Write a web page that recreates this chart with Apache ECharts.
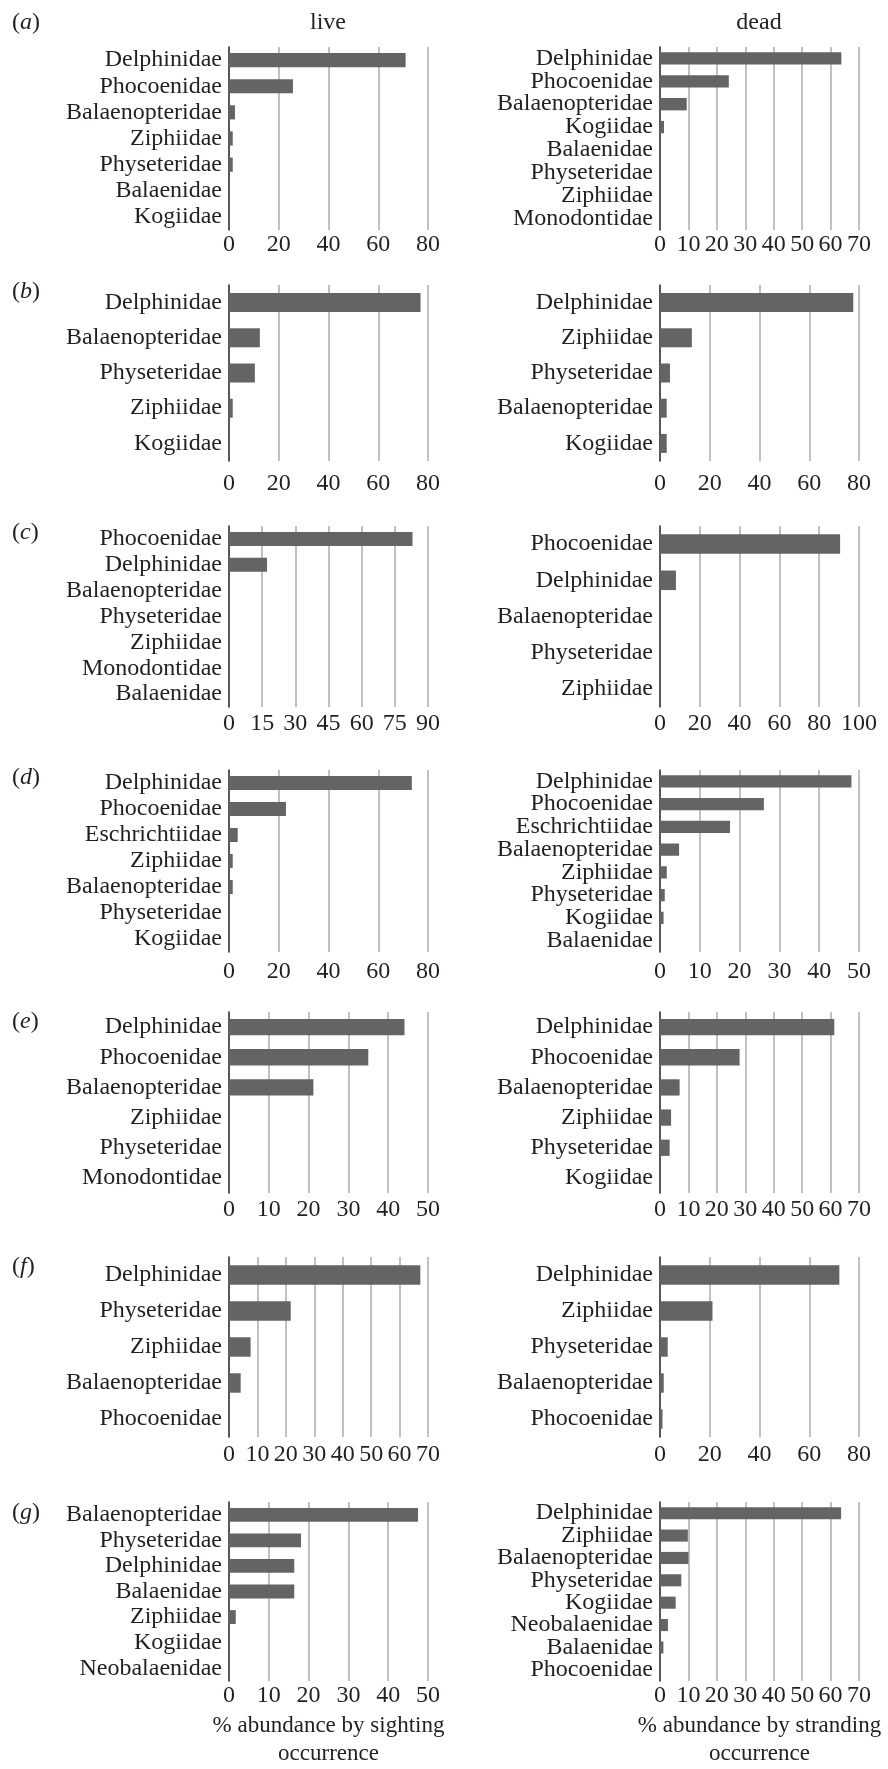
<!DOCTYPE html>
<html>
<head>
<meta charset="utf-8">
<script src="https://cdn.jsdelivr.net/npm/echarts@6/dist/echarts.min.js"></script>
<style>
  html, body { margin: 0; padding: 0; background: #fff; }
  #chart { width: 888px; height: 1769px; }
</style>
</head>
<body>
<div id="chart"></div>
<script>
// live = % abundance by sighting occurrence, dead = % abundance by stranding occurrence
const aLiveCats = ['Delphinidae', 'Phocoenidae', 'Balaenopteridae', 'Ziphiidae', 'Physeteridae', 'Balaenidae', 'Kogiidae']
const aLiveVals = [71, 25.7, 2.4, 1.5, 1.5, 0, 0]
const aDeadCats = ['Delphinidae', 'Phocoenidae', 'Balaenopteridae', 'Kogiidae', 'Balaenidae', 'Physeteridae', 'Ziphiidae', 'Monodontidae']
const aDeadVals = [63.8, 24.2, 9.4, 1.4, 0, 0, 0, 0]

const bLiveCats = ['Delphinidae', 'Balaenopteridae', 'Physeteridae', 'Ziphiidae', 'Kogiidae']
const bLiveVals = [77, 12.4, 10.4, 1.5, 0]
const bDeadCats = ['Delphinidae', 'Ziphiidae', 'Physeteridae', 'Balaenopteridae', 'Kogiidae']
const bDeadVals = [77.7, 12.8, 4, 2.7, 2.7]

const cLiveCats = ['Phocoenidae', 'Delphinidae', 'Balaenopteridae', 'Physeteridae', 'Ziphiidae', 'Monodontidae', 'Balaenidae']
const cLiveVals = [83, 17.2, 0, 0, 0, 0, 0]
const cDeadCats = ['Phocoenidae', 'Delphinidae', 'Balaenopteridae', 'Physeteridae', 'Ziphiidae']
const cDeadVals = [90.5, 8, 0, 0, 0]

const dLiveCats = ['Delphinidae', 'Phocoenidae', 'Eschrichtiidae', 'Ziphiidae', 'Balaenopteridae', 'Physeteridae', 'Kogiidae']
const dLiveVals = [73.5, 22.9, 3.5, 1.5, 1.5, 0, 0]
const dDeadCats = ['Delphinidae', 'Phocoenidae', 'Eschrichtiidae', 'Balaenopteridae', 'Ziphiidae', 'Physeteridae', 'Kogiidae', 'Balaenidae']
const dDeadVals = [48.1, 26.1, 17.6, 4.8, 1.7, 1.2, 0.9, 0]

const eLiveCats = ['Delphinidae', 'Phocoenidae', 'Balaenopteridae', 'Ziphiidae', 'Physeteridae', 'Monodontidae']
const eLiveVals = [44.1, 35, 21.2, 0, 0, 0]
const eDeadCats = ['Delphinidae', 'Phocoenidae', 'Balaenopteridae', 'Ziphiidae', 'Physeteridae', 'Kogiidae']
const eDeadVals = [61.3, 28, 6.9, 3.9, 3.4, 0]

const fLiveCats = ['Delphinidae', 'Physeteridae', 'Ziphiidae', 'Balaenopteridae', 'Phocoenidae']
const fLiveVals = [67.3, 21.7, 7.6, 4.1, 0]
const fDeadCats = ['Delphinidae', 'Ziphiidae', 'Physeteridae', 'Balaenopteridae', 'Phocoenidae']
const fDeadVals = [72.1, 21.1, 3.1, 1.5, 1.0]

const gLiveCats = ['Balaenopteridae', 'Physeteridae', 'Delphinidae', 'Balaenidae', 'Ziphiidae', 'Kogiidae', 'Neobalaenidae']
const gLiveVals = [47.5, 18.1, 16.4, 16.4, 1.7, 0, 0]
const gDeadCats = ['Delphinidae', 'Ziphiidae', 'Balaenopteridae', 'Physeteridae', 'Kogiidae', 'Neobalaenidae', 'Balaenidae', 'Phocoenidae']
const gDeadVals = [63.7, 9.8, 10, 7.5, 5.5, 2.8, 1.2, 0]

// axis max / step for each panel: [live, dead]
const axisMax = [[80, 70], [80, 80], [90, 100], [80, 50], [50, 70], [70, 80], [50, 70]]
const axisStep = [[20, 10], [20, 20], [15, 20], [20, 10], [10, 10], [10, 20], [10, 10]]

const panelTags = ['a', 'b', 'c', 'd', 'e', 'f', 'g']
const liveCats = [aLiveCats, bLiveCats, cLiveCats, dLiveCats, eLiveCats, fLiveCats, gLiveCats]
const liveVals = [aLiveVals, bLiveVals, cLiveVals, dLiveVals, eLiveVals, fLiveVals, gLiveVals]
const deadCats = [aDeadCats, bDeadCats, cDeadCats, dDeadCats, eDeadCats, fDeadCats, gDeadCats]
const deadVals = [aDeadVals, bDeadVals, cDeadVals, dDeadVals, eDeadVals, fDeadVals, gDeadVals]

// layout (pixels)
const rowBox = [[47, 230], [285, 461], [526, 707], [770, 952], [1012, 1193], [1257, 1437], [1502, 1682]]
const tickMargin = [3, 11, 5, 8, 5, 6, 3]
const tagY = [23, 292, 533, 778, 1022, 1267, 1513]
const colLeft = [229, 660]

const FONT = '"Liberation Serif", "Times New Roman", serif'
const INK = '#231f20'
const BAR = '#636466'

const chart = echarts.init(document.getElementById('chart'))

const grids = []
const xAxes = []
const yAxes = []
const series = []

panelTags.forEach((tag, r) => {
  const cols = [[liveCats[r], liveVals[r]], [deadCats[r], deadVals[r]]]
  cols.forEach((col, c) => {
    const idx = grids.length
    grids.push({
      left: colLeft[c],
      top: rowBox[r][0],
      width: 199,
      height: rowBox[r][1] - rowBox[r][0]
    })
    const xAxis = {
      type: 'value',
      gridIndex: idx,
      min: 0,
      max: axisMax[r][c],
      interval: axisStep[r][c],
      axisLine: { show: false },
      axisTick: { show: false },
      splitLine: {
        show: true,
        showMinLine: false,
        lineStyle: { color: '#ababab', width: 1.5 }
      },
      axisLabel: {
        fontFamily: FONT,
        fontSize: 24,
        color: INK,
        margin: tickMargin[r]
      }
    }
    if (r === panelTags.length - 1) {
      xAxis.name = c === 0
        ? '% abundance by sighting\noccurrence'
        : '% abundance by stranding\noccurrence'
      xAxis.nameLocation = 'middle'
      xAxis.nameGap = 31
      xAxis.nameTextStyle = {
        fontFamily: FONT,
        fontSize: 23,
        lineHeight: 28,
        color: INK
      }
    }
    xAxes.push(xAxis)
    yAxes.push({
      type: 'category',
      gridIndex: idx,
      data: col[0],
      inverse: true,
      axisLine: { show: true, lineStyle: { color: INK, width: 1.5 } },
      axisTick: { show: false },
      splitLine: { show: false },
      axisLabel: {
        fontFamily: FONT,
        fontSize: 24,
        color: INK,
        margin: 7,
        interval: 0
      }
    })
    series.push({
      type: 'bar',
      xAxisIndex: idx,
      yAxisIndex: idx,
      data: col[1],
      barWidth: '54%',
      itemStyle: { color: BAR },
      silent: true
    })
  })
})

const graphics = [
  {
    type: 'text', x: 328, y: 23,
    style: { text: 'live', font: '24px ' + FONT, fill: INK, align: 'center', verticalAlign: 'middle' }
  },
  {
    type: 'text', x: 759, y: 23,
    style: { text: 'dead', font: '24px ' + FONT, fill: INK, align: 'center', verticalAlign: 'middle' }
  }
]
panelTags.forEach((tag, r) => {
  graphics.push({
    type: 'text',
    x: 12,
    y: tagY[r],
    style: {
      text: '{n|(}{i|' + tag + '}{n|)}',
      fill: INK,
      align: 'left',
      verticalAlign: 'middle',
      rich: {
        n: { fontFamily: FONT, fontSize: 24, color: INK },
        i: { fontFamily: FONT, fontSize: 24, fontStyle: 'italic', color: INK }
      }
    }
  })
})

chart.setOption({
  animation: false,
  backgroundColor: '#fff',
  grid: grids,
  xAxis: xAxes,
  yAxis: yAxes,
  series: series,
  graphic: graphics
})
</script>
</body>
</html>
